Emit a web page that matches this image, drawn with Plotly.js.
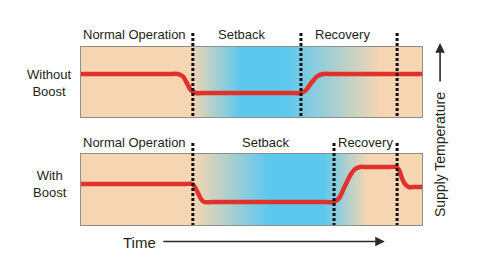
<!DOCTYPE html>
<html>
<head>
<meta charset="utf-8">
<script src="https://cdn.plot.ly/plotly-3.0.1.min.js"></script>
<style>html,body{margin:0;padding:0;background:#fff;}#chart{width:480px;height:270px;}</style>
</head>
<body>
<div id="chart"></div>
<script>
// ---- data (time 0..100, temperature 0..10 per panel) ----
const phaseLabels = ["Normal Operation", "Setback", "Recovery"];
const rowLabels = ["Without<br>Boost", "With<br>Boost"];
const timeWithout = [0, 25.5, 28.4, 29.9, 31.1, 32.3, 33.7, 36.5, 61.5, 64.2, 65.7, 67.4, 69.2, 71.0, 74.0, 100];
const tempWithout = [6.14, 6.14, 6.14, 5.79, 4.79, 3.79, 3.43, 3.43, 3.43, 3.43, 3.71, 4.79, 5.79, 6.14, 6.14, 6.14];
const timeWith = [0, 30.5, 32.6, 33.4, 34.3, 35.2, 36.1, 38.5, 71.8, 74.2, 75.7, 77.4, 79.2, 80.4, 81.8, 84.0, 90.8, 92.4, 93.3, 94.1, 95.0, 96.2, 98.0, 100];
const tempWith = [5.77, 5.77, 5.77, 5.35, 4.51, 3.66, 3.24, 3.24, 3.24, 3.24, 3.80, 5.49, 7.18, 7.89, 8.17, 8.17, 8.17, 8.17, 7.75, 6.62, 5.77, 5.35, 5.35, 5.35];
const boundariesWithout = [32.8, 64.5, 92.7];
const boundariesWith = [32.8, 74.2, 92.7];
const xAxisLabel = "Time";
const yAxisLabel = "Supply Temperature";

// ---- style ----
const PEACH = "rgb(246,214,178)";
const BLUE = "rgb(92,200,238)";
const FONT = "Liberation Sans, Arial, sans-serif";
const TXT = "#231f20";
function gradImg(stops) {
  let s = '<svg xmlns="http://www.w3.org/2000/svg" width="100" height="10" preserveAspectRatio="none">' +
    '<defs><linearGradient id="g" x1="0" y1="0" x2="1" y2="0">';
  stops.forEach(st => { s += '<stop offset="' + st[0] + '" stop-color="' + st[1] + '"/>'; });
  s += '</linearGradient></defs><rect x="0" y="0" width="100" height="10" fill="url(#g)"/></svg>';
  return 'data:image/svg+xml;utf8,' + encodeURIComponent(s);
}
const topStops = [[0, PEACH], [0.32, PEACH], [0.47, BLUE], [0.60, BLUE], [0.88, PEACH], [1, PEACH]];
const botStops = [[0, PEACH], [0.33, PEACH], [0.55, BLUE], [0.71, BLUE], [0.84, PEACH], [1, PEACH]];

const topDom = [0.6067, 1];
const botDom = [0, 0.3989];

const lineStyle = {color: "#e2312a", width: 4.5, shape: "spline", smoothing: 0.8};
const traces = [
  {x: timeWithout, y: tempWithout, type: "scatter", mode: "lines", line: lineStyle, xaxis: "x", yaxis: "y", hoverinfo: "skip"},
  {x: timeWith, y: tempWith, type: "scatter", mode: "lines", line: lineStyle, xaxis: "x2", yaxis: "y2", hoverinfo: "skip"}
];

const axBase = {range: [0, 100], showgrid: false, zeroline: false, showticklabels: false, ticks: "",
  showline: true, mirror: true, linecolor: "#8e8e8e", linewidth: 1, fixedrange: true};
const ayBase = {range: [0, 10], showgrid: false, zeroline: false, showticklabels: false, ticks: "",
  showline: true, mirror: true, linecolor: "#8e8e8e", linewidth: 1, fixedrange: true};

const shapes = [];
const dot = {color: "#111", width: 3, dash: "3px,2px"};
boundariesWithout.forEach(b => shapes.push({type: "line", xref: "x", yref: "paper", x0: b, x1: b, y0: 1.079, y1: topDom[0], line: dot, layer: "above"}));
boundariesWith.forEach(b => shapes.push({type: "line", xref: "x2", yref: "paper", x0: b, x1: b, y0: 0.461, y1: 0, line: dot, layer: "above"}));

const ann = [];
const f = {family: FONT, size: 13, color: TXT};
const topCenters = [(0 + boundariesWithout[0]) / 2 - 0.8, (boundariesWithout[0] + boundariesWithout[1]) / 2 - 1.6, (boundariesWithout[1] + boundariesWithout[2]) / 2 - 1.9];
const botCenters = [(0 + boundariesWith[0]) / 2 - 0.8, (boundariesWith[0] + boundariesWith[1]) / 2 + 0.5, (boundariesWith[1] + boundariesWith[2]) / 2 + 0.1];
phaseLabels.forEach((t, i) => {
  ann.push({text: t, xref: "x", yref: "paper", x: topCenters[i], y: 1.073, showarrow: false, font: f, xanchor: "center", yanchor: "middle"});
  ann.push({text: t, xref: "x2", yref: "paper", x: botCenters[i], y: 0.461, showarrow: false, font: f, xanchor: "center", yanchor: "middle"});
});
ann.push({text: rowLabels[0], xref: "paper", yref: "paper", x: -0.094, y: 0.798, showarrow: false, font: f, xanchor: "center", yanchor: "middle"});
ann.push({text: rowLabels[1], xref: "paper", yref: "paper", x: -0.091, y: 0.230, showarrow: false, font: f, xanchor: "center", yanchor: "middle"});
ann.push({text: xAxisLabel, xref: "paper", yref: "paper", x: 0.173, y: -0.101, showarrow: false, font: {family: FONT, size: 15, color: TXT}, xanchor: "center", yanchor: "middle"});
ann.push({text: "", xref: "paper", yref: "paper", x: 0.891, y: -0.093, showarrow: true, ax: -223, ay: 0, arrowhead: 2, arrowsize: 1.2, arrowwidth: 1.6, arrowcolor: "#2b2b2b"});
ann.push({text: yAxisLabel, xref: "paper", yref: "paper", x: 1.053, y: 0.393, textangle: -90, showarrow: false, font: {family: FONT, size: 14, color: TXT}, xanchor: "center", yanchor: "middle"});
ann.push({text: "", xref: "paper", yref: "paper", x: 1.053, y: 1.022, showarrow: true, ax: 0, ay: 40, arrowhead: 2, arrowsize: 1.2, arrowwidth: 1.6, arrowcolor: "#2b2b2b"});

const layout = {
  width: 480, height: 270,
  margin: {l: 81, r: 58, t: 47, b: 45, pad: 0},
  paper_bgcolor: "#fff", plot_bgcolor: "rgba(0,0,0,0)",
  showlegend: false,
  xaxis: Object.assign({}, axBase, {domain: [0, 1], anchor: "y"}),
  yaxis: Object.assign({}, ayBase, {domain: topDom, anchor: "x"}),
  xaxis2: Object.assign({}, axBase, {domain: [0, 1], anchor: "y2"}),
  yaxis2: Object.assign({}, ayBase, {domain: botDom, anchor: "x2"}),
  images: [
    {source: gradImg(topStops), xref: "paper", yref: "paper", x: 0, y: topDom[1], sizex: 1, sizey: topDom[1] - topDom[0], xanchor: "left", yanchor: "top", sizing: "stretch", layer: "below"},
    {source: gradImg(botStops), xref: "paper", yref: "paper", x: 0, y: botDom[1], sizex: 1, sizey: botDom[1] - botDom[0], xanchor: "left", yanchor: "top", sizing: "stretch", layer: "below"}
  ],
  shapes: shapes,
  annotations: ann
};
Plotly.newPlot("chart", traces, layout, {displayModeBar: false, staticPlot: true});
</script>
</body>
</html>
